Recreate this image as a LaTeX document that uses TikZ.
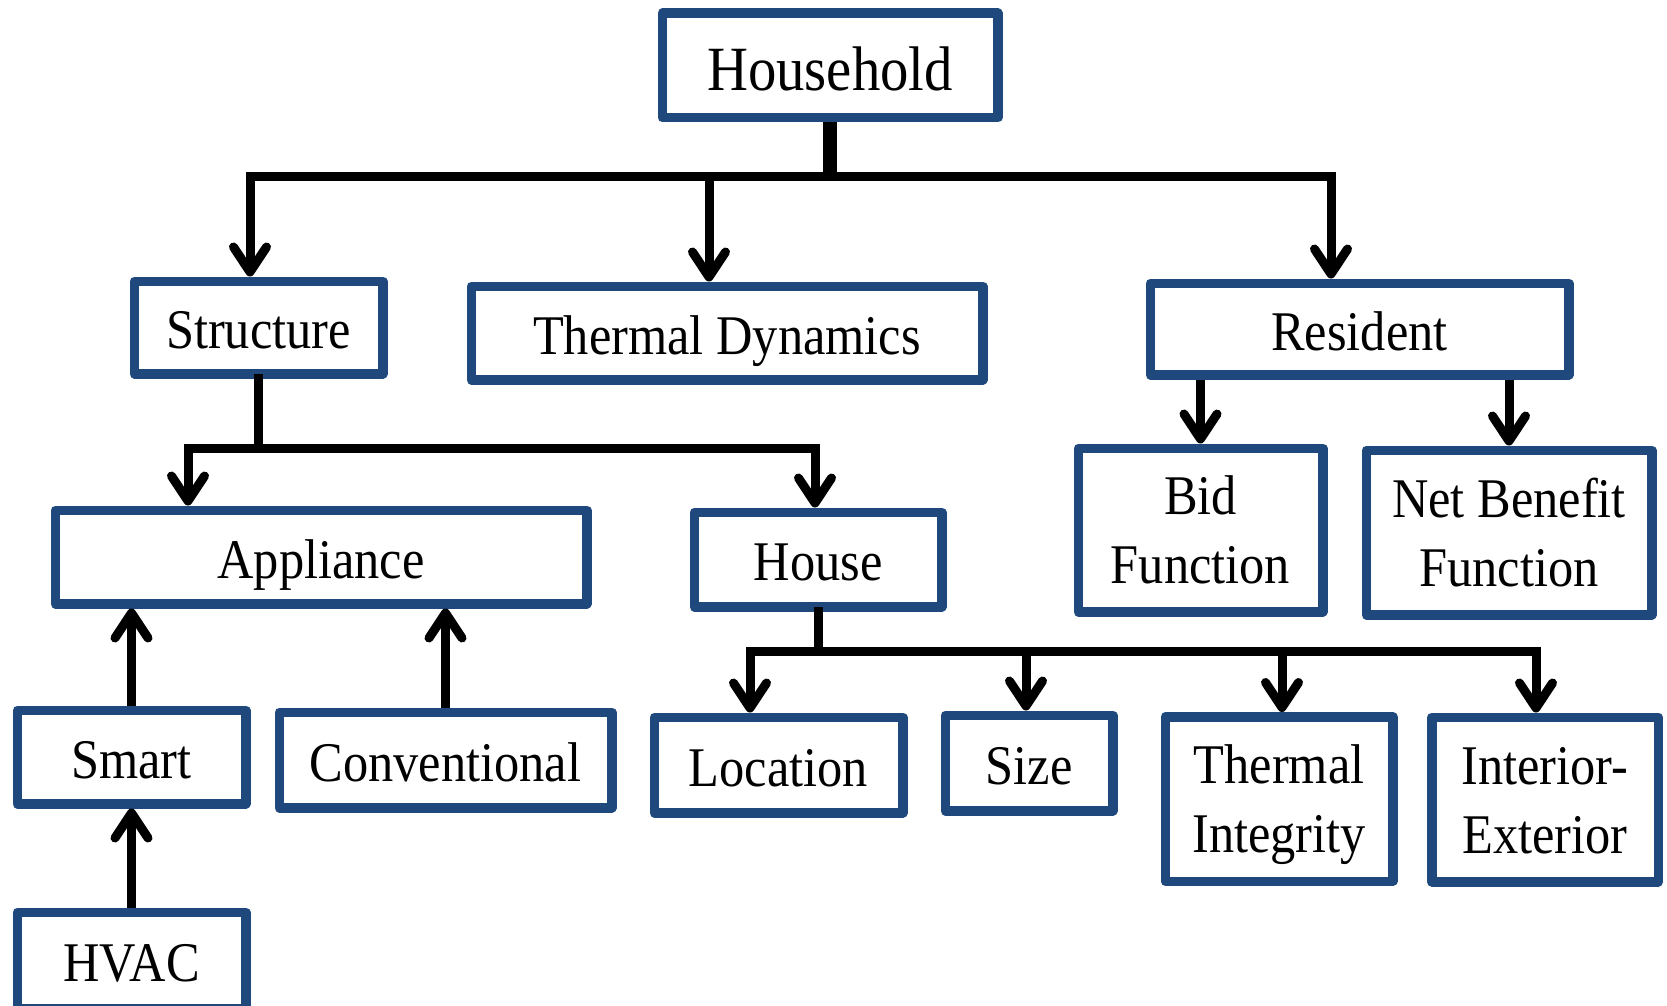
\documentclass[tikz,border=0pt]{standalone}
\usepackage{fontspec}
\setmainfont[FakeStretch=0.9]{Liberation Serif}
\usetikzlibrary{arrows.meta}
\definecolor{boxblue}{HTML}{1F497D}
\begin{document}
\begin{tikzpicture}[x=0.5pt,y=-0.5pt,
  box/.style={draw=boxblue, line width=4.75pt, fill=white, align=center,
    inner sep=0pt, line join=round, font=\fontsize{28}{34.5}\selectfont},
  oneline/.style={box, text height=22.7pt, text depth=1.3pt},
  twoline/.style={box, text height=53.5pt, text depth=0pt},
  link/.style={line width=4.5pt, line cap=rect},
  arr/.style={line width=4.5pt, -{Straight Barb[length=12.5pt,width=16.5pt,round]}},
  stem/.style={line width=6.7pt}
]
\clip (0,0) rectangle (1667,1006);

% boxes
\node[box, minimum width=167.75pt, minimum height=52.25pt, text height=25.5pt,
  text depth=0.8pt, font=\fontsize{31.5}{37}\selectfont] (hh) at (830,65.5) {Household};
\node[oneline, minimum width=124.25pt, minimum height=46.25pt] (str) at (258.5,327.5) {Structure};
\node[oneline, minimum width=255.75pt, minimum height=46.75pt] (td) at (727,333) {Thermal Dynamics};
\node[oneline, minimum width=209.25pt, minimum height=45.75pt] (res) at (1359.5,329) {Resident};
\node[oneline, minimum width=265.75pt, minimum height=46.75pt] (app) at (321,557) {Appliance};
\node[oneline, minimum width=123.75pt, minimum height=47.25pt] (house) at (818,559.5) {House};
\node[twoline, minimum width=122.25pt, minimum height=81.75pt] (bid) at (1200.5,530) {Bid\\Function};
\node[twoline, minimum width=142.75pt, minimum height=82.25pt] (nbf) at (1509,532.5) {Net Benefit\\Function};
\node[oneline, minimum width=114.25pt, minimum height=46.75pt] (smart) at (131.5,757) {Smart};
\node[oneline, minimum width=166.25pt, minimum height=47.75pt] (conv) at (445.5,760) {Conventional};
\node[oneline, minimum width=114.25pt, minimum height=48.25pt] (hvac) at (131.5,960.5) {HVAC};
\node[oneline, minimum width=124.25pt, minimum height=47.75pt] (loc) at (778.5,765) {Location};
\node[oneline, minimum width=83.75pt, minimum height=47.75pt] (size) at (1029,763) {Size};
\node[twoline, minimum width=113.75pt, minimum height=82.25pt] (ti) at (1279,799) {Thermal\\Integrity};
\node[twoline, minimum width=113.25pt, minimum height=82.25pt] (ie) at (1545,799.5) {Interior-\\Exterior};

% household branches
\coordinate (a1) at (250,177);
\coordinate (a2) at (709,177);
\coordinate (a3) at (1331,177);
\draw[stem] (hh.south) -- (hh.south |- a1);
\draw[link] (a1) -- (a3);
\draw[arr] (a1) -- (a1 |- str.north);
\draw[arr] (a2) -- (a2 |- td.north);
\draw[arr] (a3) -- (a3 |- res.north);

% structure branches
\coordinate (c1) at (188,448);
\coordinate (c2) at (815,448);
\draw[link] (str.south) -- (str.south |- c1);
\draw[link] (c1) -- (c2);
\draw[arr] (c1) -- (c1 |- app.north);
\draw[arr] (c2) -- (c2 |- house.north);

% resident branches
\draw[arr] (res.south -| bid.north) -- (bid.north);
\draw[arr] (res.south -| nbf.north) -- (nbf.north);

% house branches
\coordinate (d1) at (750,651);
\coordinate (d2) at (1026,651);
\coordinate (d3) at (1282,651);
\coordinate (d4) at (1536,651);
\draw[link] (house.south) -- (house.south |- d1);
\draw[link] (d1) -- (d4);
\draw[arr] (d1) -- (d1 |- loc.north);
\draw[arr] (d2) -- (d2 |- size.north);
\draw[arr] (d3) -- (d3 |- ti.north);
\draw[arr] (d4) -- (d4 |- ie.north);

% appliance types
\draw[arr] (smart.north) -- (smart.north |- app.south);
\draw[arr] (conv.north) -- (conv.north |- app.south);
\draw[arr] (hvac.north) -- (smart.south);
\end{tikzpicture}
\end{document}
